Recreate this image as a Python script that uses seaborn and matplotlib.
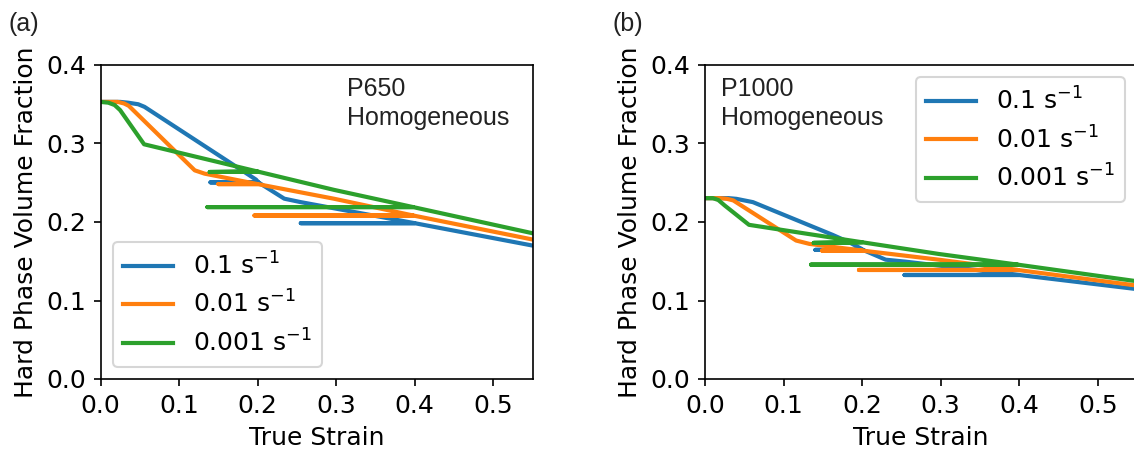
import matplotlib
matplotlib.use("Agg")
import matplotlib.pyplot as plt
import seaborn as sns
import numpy as np

# ---------------- data ----------------
rate_labels = [r"0.1 s$^{-1}$", r"0.01 s$^{-1}$", r"0.001 s$^{-1}$"]
colors = ["#1f77b4", "#ff7f0e", "#2ca02c"]

# Panel (a): P650 Homogeneous
a_blue_x = [0.000, 0.025, 0.035, 0.048, 0.056, 0.198, 0.201, 0.140, 0.201, 0.234, 0.255, 0.400, 0.255, 0.400, 0.550]
a_blue_y = [0.353, 0.353, 0.352, 0.350, 0.3467, 0.254, 0.2505, 0.2505, 0.2505, 0.2297, 0.2253, 0.1985, 0.1985, 0.1985, 0.170]
a_orange_x = [0.000, 0.022, 0.030, 0.036, 0.120, 0.1325, 0.200, 0.150, 0.200, 0.297, 0.398, 0.196, 0.398, 0.550]
a_orange_y = [0.353, 0.353, 0.351, 0.348, 0.2658, 0.2616, 0.2483, 0.2483, 0.2483, 0.2297, 0.2083, 0.2083, 0.2083, 0.1777]
a_green_x = [0.000, 0.010, 0.018, 0.025, 0.0555, 0.200, 0.139, 0.200, 0.297, 0.398, 0.136, 0.398, 0.550]
a_green_y = [0.353, 0.352, 0.349, 0.3425, 0.299, 0.2643, 0.2637, 0.2643, 0.241, 0.219, 0.219, 0.219, 0.1857]

# Panel (b): P1000 Homogeneous
b_blue_x = [0.000, 0.030, 0.040, 0.050, 0.061, 0.1625, 0.1835, 0.198, 0.201, 0.1405, 0.201, 0.230, 0.255, 0.400, 0.254, 0.400, 0.550]
b_blue_y = [0.2304, 0.2304, 0.2295, 0.2275, 0.2253, 0.1836, 0.1742, 0.1665, 0.1645, 0.1645, 0.1645, 0.152, 0.1495, 0.1325, 0.1325, 0.1325, 0.1145]
b_orange_x = [0.000, 0.019, 0.028, 0.036, 0.116, 0.133, 0.200, 0.149, 0.200, 0.2975, 0.398, 0.196, 0.398, 0.550]
b_orange_y = [0.2304, 0.2304, 0.2295, 0.2275, 0.1764, 0.1721, 0.1636, 0.1636, 0.1636, 0.152, 0.1389, 0.1389, 0.1389, 0.119]
b_green_x = [0.000, 0.010, 0.017, 0.025, 0.056, 0.200, 0.1384, 0.200, 0.2975, 0.398, 0.135, 0.398, 0.550]
b_green_y = [0.2304, 0.2304, 0.228, 0.2211, 0.1964, 0.1742, 0.1734, 0.1742, 0.1593, 0.1457, 0.1457, 0.1457, 0.1245]

x_ticks = [0.0, 0.1, 0.2, 0.3, 0.4, 0.5]
y_ticks = [0.0, 0.1, 0.2, 0.3, 0.4]

panels = [
    dict(series=[(a_blue_x, a_blue_y), (a_orange_x, a_orange_y), (a_green_x, a_green_y)],
         note="P650\nHomogeneous", note_x=0.571, legend_loc="lower left", tag="(a)"),
    dict(series=[(b_blue_x, b_blue_y), (b_orange_x, b_orange_y), (b_green_x, b_green_y)],
         note="P1000\nHomogeneous", note_x=0.036, legend_loc="upper right", tag="(b)"),
]

# ---------------- figure ----------------
W, H = 1134, 454
fig = plt.figure(figsize=(W / 150, H / 150), dpi=150)
plt.rcParams["font.size"] = 12

axes_left_px = [100.5, 705.0]
tag_x_px = [8.5, 612.5]
ax_w_px, ax_h_px = 432.0, 314.0
ax_bottom_px = 379.0

for i, p in enumerate(panels):
    ax = fig.add_axes([axes_left_px[i] / W, (H - ax_bottom_px) / H, ax_w_px / W, ax_h_px / H])
    for (xs, ys), c, lab in zip(p["series"], colors, rate_labels):
        sns.lineplot(x=xs, y=ys, sort=False, estimator=None, color=c, linewidth=2.0,
                     label=lab, ax=ax)
    ax.set_xlim(0, 0.55)
    ax.set_ylim(0, 0.4)
    ax.set_xticks(x_ticks)
    ax.set_yticks(y_ticks)
    ax.set_xlabel("True Strain", fontsize=12)
    ax.set_ylabel("Hard Phase Volume Fraction", fontsize=12)
    ax.tick_params(labelsize=12)
    ax.legend(loc=p["legend_loc"], fontsize=12, labelspacing=0.45)
    ax.text(p["note_x"], (ax_bottom_px - 125) / ax_h_px, p["note"], transform=ax.transAxes,
            fontsize=12, family="Liberation Sans", va="baseline", ha="left",
            color="#222222", linespacing=1.28)
    fig.text(tag_x_px[i] / W, 1 - 31 / H, p["tag"], fontsize=12,
             family="Liberation Sans", va="baseline", ha="left", color="#222222")

fig.savefig("out.png", dpi=150)
